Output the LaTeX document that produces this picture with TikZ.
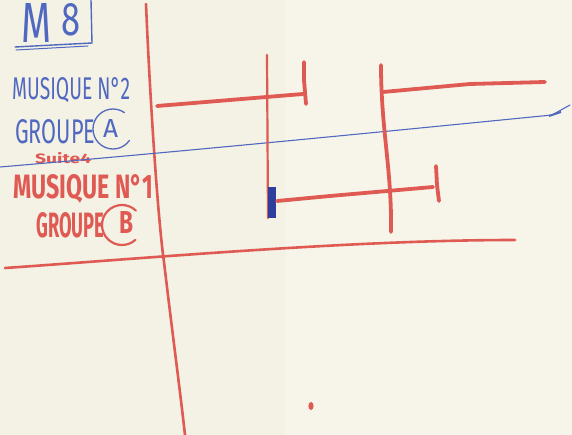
\documentclass[tikz,border=0pt]{standalone}
\usepackage{fontspec}
\setsansfont{Fira Sans}
\definecolor{paperL}{HTML}{F4F1E5}
\definecolor{paperR}{HTML}{F7F5EA}
\definecolor{pred}{HTML}{E05A54}
\definecolor{pblue}{HTML}{5068C0}
\definecolor{pnavy}{HTML}{2F3E9A}
\newcommand{\hw}[3]{\resizebox{#1}{#2}{\sffamily #3}}
\tikzset{
  redline/.style={draw=pred, line width=3.8pt, line cap=round, line join=round},
  thinred/.style={draw=pred, line width=2.6pt, line cap=round, line join=round},
  blueline/.style={draw=pblue, line width=1.1pt, line cap=round},
  bluetxt/.style={text=pblue, inner sep=0pt, anchor=south west},
  redtxt/.style={text=pred, inner sep=0pt, anchor=south west},
}
\begin{document}
\begin{tikzpicture}[x=1pt,y=-1pt]
\useasboundingbox (0,0) rectangle (572,435);
\fill[paperL] (0,0) rectangle (286,435);
\fill[paperR] (286,0) rectangle (572,435);
% M8 box
\node[bluetxt] (m) at (21,43) {\hw{30pt}{39pt}{\fontseries{l}\selectfont M}};
\node[bluetxt] (eight) at (61,36) {\hw{19pt}{32pt}{\fontseries{l}\selectfont 8}};
\draw[draw=pblue, line width=1.4pt, line cap=round] (91,0) -- (92,43) -- (15,47);
\draw[draw=pblue, line width=1.0pt, line cap=round] (88,46) -- (16,50);
% texts
\node[bluetxt] (mus2) at (12,103) {\hw{118pt}{22pt}{MUSIQUE N°2}};
\node[bluetxt] (grpA) at (15,144) {\hw{80pt}{24pt}{GROUPE}};
\node[bluetxt] (A) at (103,138) {\hw{15pt}{18pt}{A}};
\draw[draw=pblue, line width=1.3pt, line cap=round] (113,129) ++(-55:20) arc[start angle=-55, end angle=-325, radius=20];
\node[redtxt] (suite) at (35,164) {\hw{56pt}{11pt}{\bfseries Suite4}};
\node[redtxt] (mus1) at (13,204) {\hw{140pt}{24pt}{\bfseries MUSIQUE N°1}};
\node[redtxt] (grpB) at (36,238) {\hw{68pt}{25pt}{\bfseries GROUPE}};
\node[redtxt] (B) at (119,234) {\hw{14pt}{22pt}{\bfseries B}};
\draw[draw=pred, line width=2.2pt, line cap=round] (122,225) ++(-46:20) arc[start angle=-46, end angle=-312, radius=20];
% structure
\coordinate (vLtop) at (146,4);
\draw[thinred] (vLtop) .. controls (150,100) and (158,220) .. (164,262) .. controls (172,330) and (180,390) .. (185,435);
\draw[thinred] (5,268) .. controls (150,258) and (350,240) .. (515,240);
\draw[blueline] (0,167) .. controls (200,150) and (400,130) .. (552,115) -- (570,105);
\draw[draw=pblue, line width=2pt] (549,116) -- (561,112);
% top left bracket
\draw[redline] (157,106) -- (303,94);
\draw[redline] (304,62) -- (304,80) -- (306,104);
\draw[thinred, line width=2.2pt] (267,55) -- (268,218);
\fill[pnavy] (268,187) rectangle (276,218);
% middle bracket
\draw[redline] (277,201) -- (330,196) -- (433,187);
\draw[redline] (436,166) -- (437,185) -- (439,201);
% right vertical and top-right line
\draw[redline] (381,65) .. controls (381,130) and (392,170) .. (391,232);
\draw[redline] (383,92) -- (470,84) -- (545,82);
% dot
\fill[pred] (311,406) ellipse (2.6pt and 4pt);
\end{tikzpicture}
\end{document}
